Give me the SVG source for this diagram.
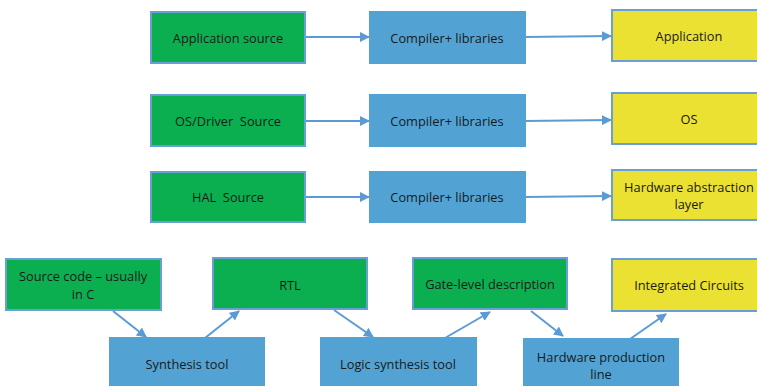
<svg xmlns="http://www.w3.org/2000/svg" width="757" height="386" viewBox="0 0 757 386">
<defs>
<style>
.g{fill:#0BAF4F;stroke:#6A9FD6;stroke-width:2}
.b{fill:#52A3D4;stroke:#52A3D4;stroke-width:2}
.y{fill:#EBE132;stroke:#6A9FD6;stroke-width:2}
text{font-family:"Open Sans","Liberation Sans",sans-serif;font-size:12.8px;fill:#1a1a1a;text-anchor:middle;dominant-baseline:central;white-space:pre}
.c line{stroke:#5B9BD5;stroke-width:2;marker-end:url(#ah)}
</style>
<marker id="ah" viewBox="0 0 10 10" refX="9" refY="5" markerWidth="5" markerHeight="5" orient="auto" markerUnits="strokeWidth">
<path d="M0,0 L10,5 L0,10 z" fill="#5B9BD5"/>
</marker>
</defs>
<rect width="757" height="386" fill="#fff"/>
<g class="c">
<line x1="306" y1="37" x2="369" y2="37"/>
<line x1="525" y1="37" x2="611" y2="36"/>
<line x1="306" y1="121" x2="369" y2="121"/>
<line x1="525" y1="121" x2="611" y2="120"/>
<line x1="306" y1="197" x2="369" y2="197"/>
<line x1="525" y1="197" x2="611" y2="196"/>
<line x1="113" y1="311" x2="146" y2="337"/>
<line x1="205" y1="338" x2="239" y2="311"/>
<line x1="334" y1="310" x2="373" y2="337"/>
<line x1="445" y1="338" x2="490" y2="312"/>
<line x1="531" y1="311" x2="563" y2="336"/>
<line x1="630" y1="339" x2="666" y2="314"/>
</g>
<g id="app-src"><rect class="g" x="151" y="12" width="154" height="51"/><text x="228" y="38">Application source</text></g>
<g id="comp1"><rect class="b" x="370" y="12" width="155" height="51"/><text x="447" y="38">Compiler+ libraries</text></g>
<g id="app"><rect class="y" x="612" y="10" width="150" height="51"/><text x="689" y="36">Application</text></g>
<g id="os-src"><rect class="g" x="151" y="95" width="154" height="51"/><text x="228" y="121" xml:space="preserve">OS/Driver  Source</text></g>
<g id="comp2"><rect class="b" x="370" y="95" width="155" height="51"/><text x="447" y="121">Compiler+ libraries</text></g>
<g id="os"><rect class="y" x="612" y="93" width="150" height="51"/><text x="689" y="119">OS</text></g>
<g id="hal-src"><rect class="g" x="151" y="172" width="154" height="50"/><text x="228" y="197" xml:space="preserve">HAL  Source</text></g>
<g id="comp3"><rect class="b" x="370" y="172" width="155" height="50"/><text x="447" y="197">Compiler+ libraries</text></g>
<g id="hal"><rect class="y" x="612" y="170" width="150" height="50"/><text x="689" y="187">Hardware abstraction</text><text x="689" y="204">layer</text></g>
<g id="src-c"><rect class="g" x="6" y="259" width="155" height="51"/><text x="83" y="276">Source code – usually</text><text x="83" y="294">in C</text></g>
<g id="rtl"><rect class="g" x="213" y="258" width="154" height="51"/><text x="290" y="285">RTL</text></g>
<g id="gate"><rect class="g" x="413" y="258" width="154" height="51"/><text x="490" y="284">Gate-level description</text></g>
<g id="ic"><rect class="y" x="612" y="259" width="150" height="52"/><text x="689" y="285">Integrated Circuits</text></g>
<g id="synth"><rect class="b" x="110" y="338" width="154" height="55"/><text x="187" y="364">Synthesis tool</text></g>
<g id="logic"><rect class="b" x="321" y="338" width="155" height="55"/><text x="398" y="364">Logic synthesis tool</text></g>
<g id="hw"><rect class="b" x="524" y="339" width="154" height="55"/><text x="601" y="357">Hardware production</text><text x="601" y="374">line</text></g>
</svg>
